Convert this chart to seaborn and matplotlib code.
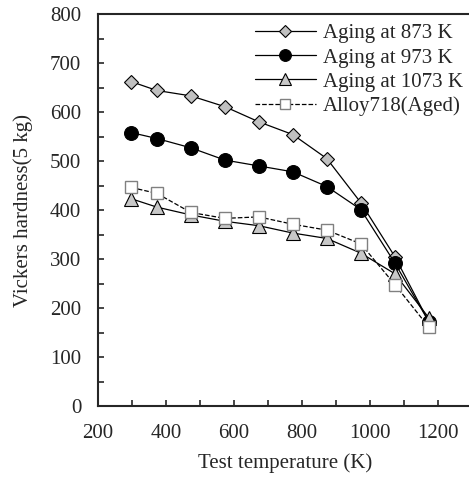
import pandas as pd
import matplotlib.pyplot as plt
import seaborn as sns
from matplotlib.ticker import MultipleLocator

# Test temperatures (K)
temps = [298, 373, 473, 573, 673, 773, 873, 973, 1073, 1173]

# Vickers hardness (5 kg)
hv_873 = [662, 644, 633, 611, 580, 554, 505, 415, 305, 172]
hv_973 = [558, 546, 527, 502, 490, 478, 448, 401, 292, 172]
hv_1073 = [423, 406, 390, 377, 368, 353, 342, 312, 270, 180]
hv_718 = [446, 434, 395, 383, 386, 371, 359, 331, 248, 161]

labels = ['Aging at 873 K', 'Aging at 973 K', 'Aging at 1073 K', 'Alloy718(Aged)']

sns.set_style('ticks')
plt.rcParams['font.family'] = ['Liberation Serif', 'DejaVu Serif']
plt.rcParams['font.size'] = 15

fig = plt.figure(figsize=(4.69, 4.78), dpi=100)
ax = fig.add_axes([0.209, 0.1506, 0.7974, 0.820])

sns.lineplot(x=temps, y=hv_873, ax=ax, color='black', lw=0.9,
             marker='D', markersize=7.5, markerfacecolor='#c0c0c0',
             markeredgecolor='black', markeredgewidth=0.8, label=labels[0])
sns.lineplot(x=temps, y=hv_973, ax=ax, color='black', lw=0.9,
             marker='o', markersize=10, markerfacecolor='black',
             markeredgecolor='black', label=labels[1])
sns.lineplot(x=temps, y=hv_1073, ax=ax, color='black', lw=0.9,
             marker='^', markersize=10.5, markerfacecolor='#c8c8c8',
             markeredgecolor='black', markeredgewidth=0.8, label=labels[2])
sns.lineplot(x=temps, y=hv_718, ax=ax, color='black', lw=0.9, linestyle='--',
             marker='s', markersize=8, markerfacecolor='white',
             markeredgecolor='#808080', markeredgewidth=1.0, label=labels[3])

ax.set_xlim(200, 1300)
ax.set_ylim(0, 800)
ax.xaxis.set_major_locator(MultipleLocator(200))
ax.xaxis.set_minor_locator(MultipleLocator(100))
ax.yaxis.set_major_locator(MultipleLocator(100))
ax.yaxis.set_minor_locator(MultipleLocator(50))
ax.tick_params(which='both', direction='in', length=4.5, width=1.2,
               labelsize=15, top=False, right=False)
ax.tick_params(axis='x', pad=13)
ax.tick_params(axis='y', pad=12)
for s in ax.spines.values():
    s.set_linewidth(1.5)

ax.set_xlabel('Test temperature (K)', fontsize=15, labelpad=7)
ax.set_ylabel('Vickers hardness(5 kg)', fontsize=15, labelpad=12)

ax.legend(loc='upper left', bbox_to_anchor=(0.42, 0.975), frameon=False,
          borderaxespad=0, borderpad=0, handlelength=2.9, handletextpad=0.35,
          labelspacing=0.22, markerscale=0.85, fontsize=15)

fig.savefig('out.png', dpi=100)
